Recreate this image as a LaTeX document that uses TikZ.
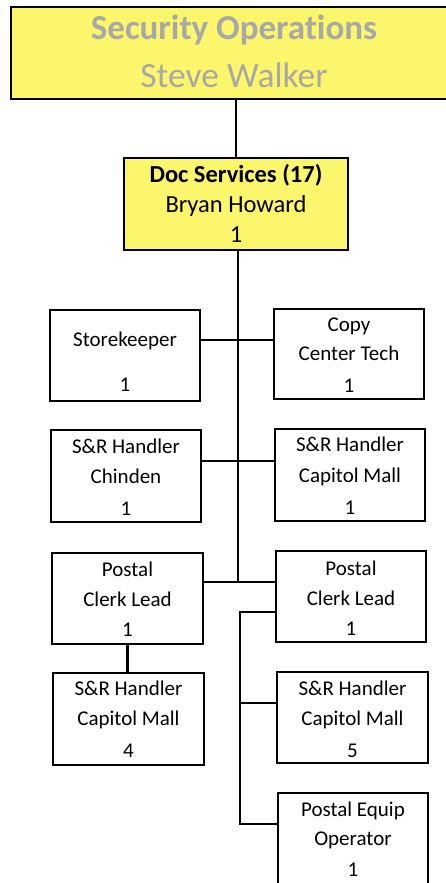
\documentclass[tikz,border=0pt]{standalone}
\usepackage{fontspec}
\setmainfont{Carlito}[Ligatures=NoCommon]
\definecolor{hiyellow}{RGB}{252,246,108}
\definecolor{softgrey}{RGB}{168,168,168}
\begin{document}
\begin{tikzpicture}[x=1pt,y=-1pt,
  box/.style={draw=black, line width=2.8pt, fill=white, inner sep=0pt},
  head/.style={box, fill=hiyellow},
  lbl/.style={anchor=base, inner sep=0pt, font=\fontsize{21}{24}\selectfont},
  wire/.style={line width=2.5pt}]
\useasboundingbox (0,0) rectangle (445,883);

% boxes
\node[head, minimum width=446pt, minimum height=92pt] (top) at (234,53) {};
\node[head, minimum width=224pt, minimum height=92pt] (doc) at (236,204) {};
\node[box, minimum width=150pt, minimum height=91pt] (sk) at (125,355.5) {};
\node[box, minimum width=150pt, minimum height=90pt] (cct) at (349,354) {};
\node[box, minimum width=150pt, minimum height=92pt] (srch) at (126,476) {};
\node[box, minimum width=150pt, minimum height=92pt] (srcma) at (350,475) {};
\node[box, minimum width=151pt, minimum height=91pt] (pcla) at (127.5,598.5) {};
\node[box, minimum width=150pt, minimum height=91pt] (pclb) at (351,596.5) {};
\node[box, minimum width=151pt, minimum height=92pt] (srcmb) at (128.5,719) {};
\node[box, minimum width=151pt, minimum height=91pt] (srcmc) at (352.5,717.5) {};
\node[box, minimum width=150pt, minimum height=91pt] (peo) at (353,838.5) {};

% connectors
\coordinate (j) at (238,582);
\coordinate (rb) at (240,824);
\draw[wire] (doc.north) -- (doc.north |- top.south);
\draw[wire] (j |- doc.south) -- (j);
\draw[wire] ([yshift=15.5pt]sk.east) -- ([yshift=14pt]cct.west);
\draw[wire] ([yshift=15pt]srch.east) -- ([yshift=14pt]srcma.west);
\draw[wire] ([yshift=16.5pt]pcla.east) -- ([yshift=14.5pt]pclb.west);
\draw[wire] (pcla.south) -- (pcla.south |- srcmb.north);
\draw[wire] ([yshift=-15.5pt]pclb.west) -| (rb) -- (rb -| peo.west);
\draw[wire] ([yshift=14.5pt]srcmc.west) -- ([yshift=14.5pt]srcmc.west -| rb);

% texts
\node[lbl, text=softgrey, font=\fontsize{35}{38}\selectfont\bfseries] (top1) at (234,40) {Security Operations};
\node[lbl, text=softgrey, font=\fontsize{35.5}{38}\selectfont] (top2) at (234,87) {Steve Walker};

\node[lbl, font=\fontsize{24.5}{28}\selectfont\bfseries] (doc1) at (236,182.7) {Doc Services (17)};
\node[lbl, font=\fontsize{24.5}{28}\selectfont] (doc2) at (236,212.7) {Bryan Howard};
\node[lbl, font=\fontsize{24.5}{28}\selectfont] (doc3) at (236,242.7) {1};

\node[lbl] (sk1) at (125,346.7) {Storekeeper};
\node[lbl] (sk2) at (125,391.7) {1};

\node[lbl] (cct1) at (349,331.7) {Copy};
\node[lbl] (cct2) at (349,360.7) {Center Tech};
\node[lbl] (cct3) at (349,392.7) {1};

\node[lbl] (srch1) at (126,453.3) {S\&R Handler};
\node[lbl] (srch2) at (126,483) {Chinden};
\node[lbl] (srch3) at (126,515) {1};

\node[lbl] (srcma1) at (350,451.7) {S\&R Handler};
\node[lbl] (srcma2) at (350,482.7) {Capitol Mall};
\node[lbl] (srcma3) at (350,514) {1};

\node[lbl] (pcla1) at (127.5,576) {Postal};
\node[lbl] (pcla2) at (127.5,606.7) {Clerk Lead};
\node[lbl] (pcla3) at (127.5,636.7) {1};

\node[lbl] (pclb1) at (351,575) {Postal};
\node[lbl] (pclb2) at (351,605) {Clerk Lead};
\node[lbl] (pclb3) at (351,635) {1};

\node[lbl] (srcmb1) at (128.5,695.7) {S\&R Handler};
\node[lbl] (srcmb2) at (128.5,725) {Capitol Mall};
\node[lbl] (srcmb3) at (128.5,757.3) {4};

\node[lbl] (srcmc1) at (352.5,695) {S\&R Handler};
\node[lbl] (srcmc2) at (352.5,725) {Capitol Mall};
\node[lbl] (srcmc3) at (352.5,757) {5};

\node[lbl] (peo1) at (353,816) {Postal Equip};
\node[lbl] (peo2) at (353,845) {Operator};
\node[lbl] (peo3) at (353,876.7) {1};
\end{tikzpicture}
\end{document}
